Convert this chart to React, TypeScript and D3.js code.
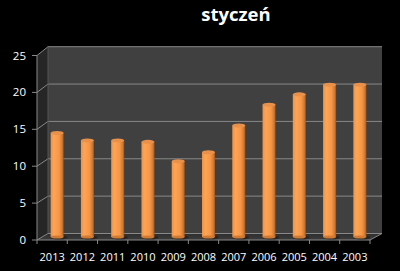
import React from "react";
import * as d3 from "d3";

const categories = ["2013", "2012", "2011", "2010", "2009", "2008", "2007", "2006", "2005", "2004", "2003"];
const values = [14.0, 13.0, 13.0, 12.8, 10.2, 11.4, 15.0, 17.8, 19.2, 20.5, 20.5];
const ticks = [0, 5, 10, 15, 20, 25];
const title = "styczeń";

const W = 400, H = 271;
const frontX0 = 37, frontX1 = 370;
const DX = 11;
const yFront = d3.scaleLinear().domain([0, 25]).range([240, 55.5]);
const yBack = d3.scaleLinear().domain([0, 25]).range([233.5, 46.7]);
const yMid = d3.scaleLinear().domain([0, 25]).range([237, 51.2]);
const xBand = d3.scaleBand<string>().domain(categories).range([frontX0, frontX1]).padding(0);

export default function App() {
  const bw = 13;
  const font = "'Open Sans', 'DejaVu Sans', sans-serif";
  const backX0 = frontX0 + DX, backX1 = frontX1 + DX + 1;
  return (
    <svg width={W} height={H} style={{ position: "absolute", left: 0, top: 0, background: "#000" }}>
      <defs>
        <linearGradient id="barG" x1="0" x2="1" y1="0" y2="0">
          <stop offset="0" stopColor="#f2903f" />
          <stop offset="0.25" stopColor="#fca556" />
          <stop offset="0.65" stopColor="#f79646" />
          <stop offset="0.88" stopColor="#d07a33" />
          <stop offset="1" stopColor="#9a5722" />
        </linearGradient>
        <linearGradient id="floorG" x1="0" x2="0" y1="0" y2="1">
          <stop offset="0" stopColor="#2e2e2e" />
          <stop offset="1" stopColor="#3c3c3c" />
        </linearGradient>
      </defs>
      <rect x={0} y={0} width={W} height={H} fill="#000" />
      <text x={236} y={21} textAnchor="middle" fill="#fff" fontFamily={font} fontWeight="bold" fontSize={18.5}>{title}</text>
      <rect x={backX0} y={yBack(25)} width={backX1 - backX0} height={yBack(0) - yBack(25)} fill="#404040" />
      <polygon points={`${frontX0},${yFront(25)} ${backX0},${yBack(25)} ${backX0},${yBack(0)} ${frontX0},${yFront(0)}`} fill="#262626" />
      <polygon points={`${frontX0},${yFront(0)} ${backX0},${yBack(0)} ${backX1},${yBack(0)} ${frontX1},${yFront(0)}`} fill="url(#floorG)" />
      {ticks.map(t => (
        <g key={t}>
          <line x1={backX0} x2={backX1} y1={yBack(t)} y2={yBack(t)} stroke="#888" strokeWidth={1} />
          <line x1={frontX0} x2={backX0} y1={yFront(t)} y2={yBack(t)} stroke="#888" strokeWidth={1} />
          <line x1={frontX0 - 5} x2={frontX0} y1={yFront(t)} y2={yFront(t)} stroke="#888" strokeWidth={1} />
          <text x={26} y={yFront(t) + 4} textAnchor="end" fill="#fff" fontFamily={font} fontSize={11.5}>{t}</text>
        </g>
      ))}
      <line x1={backX0} x2={backX0} y1={yBack(25)} y2={yBack(0)} stroke="#555" />
      <line x1={frontX0} x2={frontX0} y1={yFront(25)} y2={yFront(0)} stroke="#888" />
      <line x1={frontX0} x2={frontX1} y1={yFront(0)} y2={yFront(0)} stroke="#888" />
      <line x1={frontX1} x2={backX1} y1={yFront(0)} y2={yBack(0)} stroke="#888" />
      {categories.map(c => {
        const x = (xBand(c) as number);
        return <line key={"t" + c} x1={x} x2={x} y1={yFront(0)} y2={yFront(0) + 4} stroke="#888" />;
      })}
      <line x1={frontX1} x2={frontX1} y1={yFront(0)} y2={yFront(0) + 4} stroke="#888" />
      {categories.map((c, i) => {
        const cx = (xBand(c) as number) + xBand.bandwidth() / 2 + DX / 2 - 0.5;
        const top = yMid(values[i]);
        const base = yMid(0);
        return (
          <g key={c}>
            <ellipse cx={cx + 2} cy={base + 0.5} rx={bw / 2 + 2} ry={2} fill="#1a1a1a" opacity={0.6} />
            <rect x={cx - bw / 2} y={top} width={bw} height={base - top} fill="url(#barG)" />
            <ellipse cx={cx} cy={base} rx={bw / 2} ry={1.6} fill="#d07a33" />
            <ellipse cx={cx} cy={top} rx={bw / 2} ry={2} fill="#e9914a" />
          </g>
        );
      })}
      {categories.map(c => (
        <text key={"l" + c} x={(xBand(c) as number) + xBand.bandwidth() / 2} y={261} textAnchor="middle" fill="#fff" fontFamily={font} fontSize={11}>{c}</text>
      ))}
    </svg>
  );
}
